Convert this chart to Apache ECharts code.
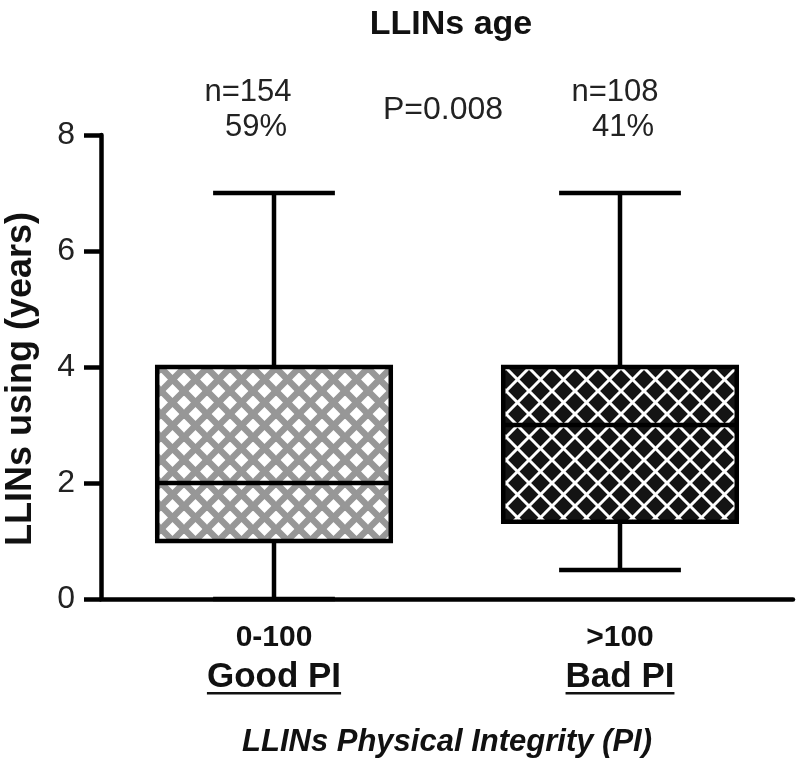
<!DOCTYPE html>
<html>
<head>
<meta charset="utf-8">
<script src="https://cdn.jsdelivr.net/npm/echarts@6/dist/echarts.min.js"></script>
<style>
html,body{margin:0;padding:0;background:#fff;}
#chart{width:800px;height:764px;}
</style>
</head>
<body>
<div id="chart"></div>
<script>
// ---- data ----
const categories = ['0-100', '>100'];
const groupNames = ['Good PI', 'Bad PI'];
const whiskerLow = [0, 0.5];
const q1 = [1, 1.33];
const median = [2, 3];
const q3 = [4, 4];
const whiskerHigh = [7, 7];
const nLabels = ['n=154', 'n=108'];
const pctLabels = ['59%', '41%'];
const pLabel = 'P=0.008';

const LIGHT = "'Liberation Sans Narrow', 'Liberation Sans', Arial, sans-serif";
const BOLD = "'Liberation Sans', Arial, sans-serif";

function makePattern(bg, fg, lw) {
  const s = 23;
  const c = document.createElement('canvas');
  c.width = s; c.height = s;
  const g = c.getContext('2d');
  g.fillStyle = bg; g.fillRect(0, 0, s, s);
  g.strokeStyle = fg; g.lineWidth = lw;
  for (let k = -1; k <= 1; k++) {
    g.beginPath(); g.moveTo(k * s - s, -s); g.lineTo(k * s + 2 * s, 2 * s); g.stroke();
    g.beginPath(); g.moveTo(k * s + 2 * s, -s); g.lineTo(k * s - s, 2 * s); g.stroke();
  }
  return c;
}
const patterns = [
  makePattern('#ffffff', '#979797', 6.5),
  makePattern('#141414', '#ffffff', 3)
];

const boxData = categories.map((c, i) => [i, whiskerLow[i], q1[i], median[i], q3[i], whiskerHigh[i]]);

const chart = echarts.init(document.getElementById('chart'), null, {renderer: 'canvas'});
const LW = 4.5;
const option = {
  backgroundColor: '#ffffff',
  animation: false,
  title: {
    text: 'LLINs age', left: 446, top: 3, textAlign: 'center',
    textStyle: {fontFamily: BOLD, fontWeight: 'bold', fontSize: 34, color: '#111'}
  },
  grid: {left: 101, right: 7, top: 135, bottom: 165, containLabel: false, outerBoundsMode: 'none'},
  xAxis: {
    type: 'category', data: categories, boundaryGap: true,
    axisLine: {lineStyle: {color: '#000', width: LW}},
    axisTick: {alignWithLabel: true, length: 13, lineStyle: {color: '#000', width: LW}},
    axisLabel: {margin: 24, fontFamily: BOLD, fontWeight: 'bold', fontSize: 30, color: '#111'},
    splitLine: {show: false},
    name: 'LLINs Physical Integrity (PI)', nameLocation: 'middle', nameGap: 128,
    nameTextStyle: {fontFamily: BOLD, fontWeight: 'bold', fontStyle: 'italic', fontSize: 31, color: '#111'}
  },
  yAxis: {
    type: 'value', min: 0, max: 8, interval: 2,
    axisLine: {show: true, lineStyle: {color: '#000', width: LW}},
    axisTick: {show: true, length: 17, lineStyle: {color: '#000', width: LW}},
    axisLabel: {margin: 26, fontFamily: LIGHT, fontSize: 32, color: '#222'},
    splitLine: {show: false},
    name: 'LLINs using (years)', nameLocation: 'middle', nameGap: 62,
    nameTextStyle: {fontFamily: BOLD, fontWeight: 'bold', fontSize: 36, color: '#111', padding: [0, 24, 0, 0]}
  },
  series: [{
    type: 'custom',
    data: boxData,
    encode: {x: 0, y: [1, 2, 3, 4, 5]},
    clip: false,
    renderItem: function (params, api) {
      const i = api.value(0);
      const cx = api.coord([i, 0])[0];
      const band = api.size([1, 0])[0];
      const bw = band * 0.675, cw = band * 0.352;
      const yLo = api.coord([i, api.value(1)])[1];
      const yQ1 = api.coord([i, api.value(2)])[1];
      const yMed = api.coord([i, api.value(3)])[1];
      const yQ3 = api.coord([i, api.value(4)])[1];
      const yHi = api.coord([i, api.value(5)])[1];
      const line = (x1, y1, x2, y2) => ({type: 'line', shape: {x1, y1, x2, y2}, style: {stroke: '#000', lineWidth: LW}});
      return {
        type: 'group',
        children: [
          line(cx, yHi, cx, yQ3),
          line(cx, yQ1, cx, yLo),
          line(cx - cw / 2, yHi, cx + cw / 2, yHi),
          line(cx - cw / 2, yLo, cx + cw / 2, yLo),
          {type: 'rect', shape: {x: cx - bw / 2, y: yQ3, width: bw, height: yQ1 - yQ3},
           style: {fill: {image: patterns[i], repeat: 'repeat'}, stroke: '#000', lineWidth: LW}},
          line(cx - bw / 2, yMed, cx + bw / 2, yMed)
        ]
      };
    }
  }]
};
chart.setOption(option);

// annotations positioned from axis coordinates
const graphics = [];
const ctx = document.createElement('canvas').getContext('2d');
categories.forEach((c, i) => {
  const cx = chart.convertToPixel({xAxisIndex: 0}, c);
  const f = 'bold 35px ' + BOLD;
  ctx.font = f;
  const w = ctx.measureText(groupNames[i]).width;
  graphics.push({type: 'text', x: cx, y: 677, style: {text: groupNames[i], font: f, fill: '#111', textAlign: 'center', textVerticalAlign: 'middle'}});
  graphics.push({type: 'rect', shape: {x: cx - w / 2, y: 692, width: w, height: 2.5}, style: {fill: '#111'}});
  const off = i === 0 ? -26 : -5;
  graphics.push({type: 'text', x: cx + off, y: 92, style: {text: nLabels[i], font: '31px ' + LIGHT, fill: '#222', textAlign: 'center', textVerticalAlign: 'middle'}});
  graphics.push({type: 'text', x: cx + off + 8, y: 127, style: {text: pctLabels[i], font: '31px ' + LIGHT, fill: '#222', textAlign: 'center', textVerticalAlign: 'middle'}});
});
graphics.push({type: 'text', x: 443, y: 110, style: {text: pLabel, font: '32px ' + LIGHT, fill: '#222', textAlign: 'center', textVerticalAlign: 'middle'}});
chart.setOption({graphic: graphics});
</script>
</body>
</html>
